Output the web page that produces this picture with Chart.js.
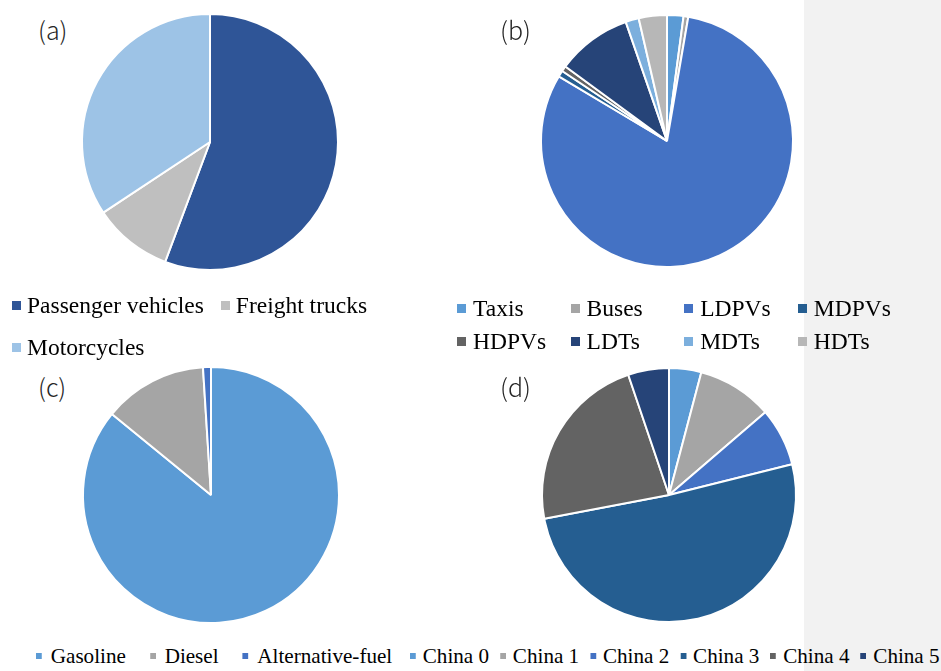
<!DOCTYPE html>
<html>
<head>
<meta charset="utf-8">
<script src="https://cdn.jsdelivr.net/npm/chart.js@4.4.1/dist/chart.umd.min.js"></script>
<style>
    body { margin: 0; width: 941px; height: 671px; position: relative; background: #fff; overflow: hidden; }
    #fascia { position: absolute; left: 804px; top: 0; width: 137px; height: 671px; background: #f2f2f2; }
    .torta { position: absolute; }
    .sigla { position: absolute; font-family: "Noto Sans CJK SC", "Noto Sans", sans-serif; font-size: 25px; font-weight: 300; line-height: 1; color: #262626; }
    .legenda { position: absolute; font-family: "Liberation Serif", "Times New Roman", serif; color: #000; display: flex; flex-wrap: wrap; }
    .voce { display: flex; align-items: center; white-space: nowrap; }
    .quadretto { display: inline-block; flex: none; }

    #legendaA { left: 12px; top: 284px; width: 380px; column-gap: 17px; font-size: 23.5px; }
    #legendaA .voce { height: 42px; }
    #legendaA .quadretto { width: 9px; height: 9px; margin-right: 6px; }

    #legendaB { left: 457px; top: 292px; width: 456px; display: grid; grid-template-columns: repeat(4, 113.6px); font-size: 23.5px; }
    #legendaB .voce { height: 33px; }
    #legendaB .quadretto { width: 9px; height: 9px; margin-right: 7px; }

    /* legende in basso, leggermente compresse in orizzontale */
    #legendaC, #legendaD { top: 640px; font-size: 22px; flex-wrap: nowrap; transform: scaleX(0.96); transform-origin: 0 0; }
    #legendaC { left: 36px; column-gap: 25px; }
    #legendaD { left: 410px; column-gap: 11.5px; }
    #legendaC .voce, #legendaD .voce { height: 32px; }
    #legendaC .quadretto, #legendaD .quadretto { width: 6px; height: 6px; }
    #legendaC .quadretto { margin-right: 9.4px; }
    #legendaD .quadretto { margin-right: 7.3px; }
</style>
</head>
<body>
<div id="fascia"></div>

<canvas id="tortaA" class="torta" width="280" height="280" style="left:70px; top:2px;"></canvas>
<canvas id="tortaB" class="torta" width="280" height="280" style="left:527px; top:1px;"></canvas>
<canvas id="tortaC" class="torta" width="280" height="280" style="left:71px; top:355px;"></canvas>
<canvas id="tortaD" class="torta" width="280" height="280" style="left:529px; top:355px;"></canvas>

<div class="sigla" style="left:38px; top:17px;">(a)</div>
<div class="sigla" style="left:500px; top:17px;">(b)</div>
<div class="sigla" style="left:38px; top:374px;">(c)</div>
<div class="sigla" style="left:500px; top:374px;">(d)</div>

<div id="legendaA" class="legenda"></div>
<div id="legendaB" class="legenda"></div>
<div id="legendaC" class="legenda"></div>
<div id="legendaD" class="legenda"></div>

<script>
// (a) ripartizione per tipo di veicolo
const categorieA = ['Passenger vehicles', 'Freight trucks', 'Motorcycles'];
const quoteA = [55.7, 10.0, 34.3];
const coloriA = ['#2F5597', '#BFBFBF', '#9DC3E6'];

// (b) ripartizione per classe
const categorieB = ['Taxis', 'Buses', 'LDPVs', 'MDPVs', 'HDPVs', 'LDTs', 'MDTs', 'HDTs'];
const quoteB = [2.1, 0.6, 80.7, 0.8, 0.7, 9.6, 1.7, 3.6];
const coloriB = ['#5B9BD5', '#A5A5A5', '#4472C4', '#255E91', '#636363', '#264478', '#7CAFDD', '#B7B7B7'];

// (c) ripartizione per carburante
const categorieC = ['Gasoline', 'Diesel', 'Alternative-fuel'];
const quoteC = [85.9, 13.1, 1.0];
const coloriC = ['#5B9BD5', '#A5A5A5', '#4472C4'];

// (d) ripartizione per standard di emissione
const categorieD = ['China 0', 'China 1', 'China 2', 'China 3', 'China 4', 'China 5'];
const quoteD = [4.1, 9.6, 7.4, 50.9, 22.8, 5.2];
const coloriD = ['#5B9BD5', '#A5A5A5', '#4472C4', '#255E91', '#636363', '#264478'];

// Legenda in HTML costruita dalle voci generate da Chart.js
const legendaHtml = {
    id: 'legendaHtml',
    afterUpdate(chart, args, opts) {
        const contenitore = document.getElementById(opts.contenitore);
        contenitore.innerHTML = '';
        const voci = chart.options.plugins.legend.labels.generateLabels(chart);
        voci.forEach(v => {
            const voce = document.createElement('div');
            voce.className = 'voce';
            const quadretto = document.createElement('span');
            quadretto.className = 'quadretto';
            quadretto.style.background = v.fillStyle;
            const testo = document.createElement('span');
            testo.textContent = v.text;
            voce.appendChild(quadretto);
            voce.appendChild(testo);
            contenitore.appendChild(voce);
        });
    }
};

function creaTorta(idCanvas, idLegenda, categorie, quote, colori, raggio) {
    const ctx = document.getElementById(idCanvas).getContext('2d');
    return new Chart(ctx, {
        type: 'pie',
        data: {
            labels: categorie,
            datasets: [{
                data: quote,
                backgroundColor: colori,
                borderColor: '#ffffff',
                borderWidth: 2,
                hoverOffset: 0
            }]
        },
        options: {
            responsive: false,
            animation: false,
            radius: raggio,
            layout: { padding: 0 },
            plugins: {
                legend: { display: false },
                tooltip: { enabled: false },
                legendaHtml: { contenitore: idLegenda }
            }
        },
        plugins: [legendaHtml]
    });
}

creaTorta('tortaA', 'legendaA', categorieA, quoteA, coloriA, 128);
creaTorta('tortaB', 'legendaB', categorieB, quoteB, coloriB, 126);
creaTorta('tortaC', 'legendaC', categorieC, quoteC, coloriC, 128);
creaTorta('tortaD', 'legendaD', categorieD, quoteD, coloriD, 127);
</script>
</body>
</html>
